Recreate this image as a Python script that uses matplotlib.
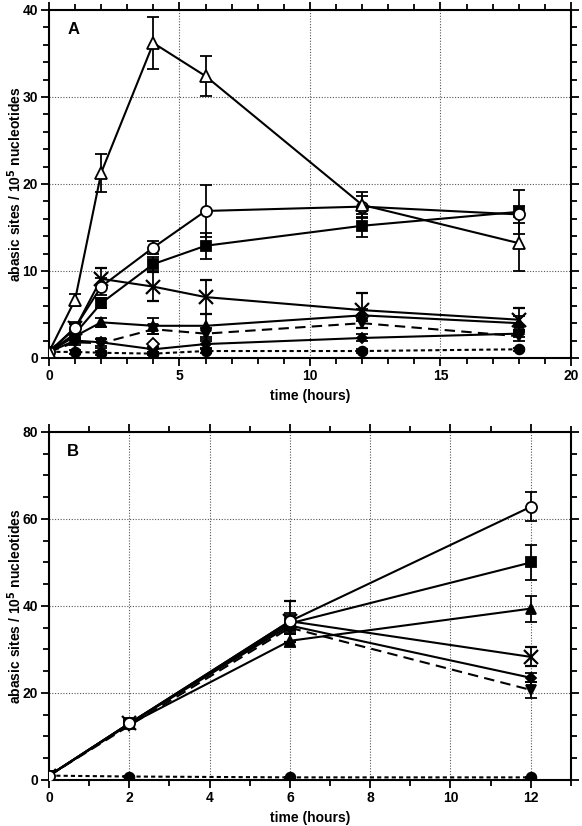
import matplotlib
matplotlib.use("Agg")
import matplotlib.pyplot as plt
from matplotlib.ticker import MultipleLocator

plt.rcParams['font.family'] = ['Liberation Sans', 'DejaVu Sans']
plt.rcParams['font.weight'] = 'bold'

# ---- Panel A data ----
time_a = [0, 1, 2, 4, 6, 12, 18]
a_open_tri = [0.7, 6.7, 21.3, 36.2, 32.4, 17.6, 13.2]
a_open_tri_err = [0.2, 0.7, 2.2, 3.0, 2.3, 1.5, 3.2]
a_open_circ = [0.7, 3.5, 8.2, 12.7, 16.9, 17.4, 16.5]
a_open_circ_err = [0.2, 0.6, 1.0, 0.8, 3.0, 1.2, 1.0]
a_square = [0.7, 2.8, 6.3, 10.8, 12.9, 15.2, 16.8]
a_square_err = [0.2, 0.5, 0.6, 0.8, 1.5, 1.3, 2.5]
a_cross = [0.7, 3.4, 9.1, 8.2, 7.0, 5.5, 4.4]
a_cross_err = [0.2, 0.5, 1.2, 1.7, 2.0, 2.0, 1.3]
a_tri = [0.7, 2.5, 4.1, 3.7, 3.7, 4.9, 4.0]
a_tri_err = [0.2, 0.4, 0.5, 0.9, 1.3, 0.7, 0.8]
a_inv = [0.7, 1.8, 1.7, 3.3, 2.8, 4.0, 2.5]
a_inv_err = [0.2, 0.3, 0.5, 0.5, 0.6, 0.6, 0.5]
a_diam = [0.7, 2.0, 1.8, 1.0, 1.6, 2.3, 2.8]
a_diam_err = [0.2, 0.3, 0.4, 0.3, 0.4, 0.4, 0.4]
a_circ = [0.7, 0.7, 0.6, 0.5, 0.8, 0.8, 1.0]
a_circ_err = [0.1, 0.2, 0.2, 0.2, 0.2, 0.2, 0.2]
a_open_diam_t = [4]
a_open_diam = [1.6]

# ---- Panel B data ----
time_b = [0, 2, 6, 12]
b_open_circ = [1.0, 13.0, 36.5, 62.8]
b_open_circ_err = [0.3, 0.5, 2.0, 3.3]
b_square = [1.0, 13.0, 36.0, 50.0]
b_square_err = [0.3, 0.5, 2.0, 4.0]
b_tri = [1.0, 12.8, 32.0, 39.4]
b_tri_err = [0.3, 0.5, 1.5, 3.0]
b_cross = [1.0, 13.0, 36.5, 28.3]
b_cross_err = [0.3, 0.5, 4.7, 2.2]
b_diam = [1.0, 13.0, 35.5, 23.5]
b_diam_err = [0.3, 0.5, 1.0, 1.0]
b_inv = [1.0, 12.5, 35.0, 20.7]
b_inv_err = [0.3, 0.5, 1.5, 1.8]
b_circ = [1.0, 0.8, 0.6, 0.6]
b_circ_err = [0.1, 0.1, 0.1, 0.1]

fig = plt.figure(figsize=(5.82, 8.26), dpi=100)
axA = fig.add_axes([0.0842, 0.5666, 0.8968, 0.4213])
axB = fig.add_axes([0.0842, 0.0557, 0.8968, 0.4213])

lw = 1.5
def series(ax, t, y, e, marker, ls='-', mfc='black', ms=7, mew=1.3):
    ax.errorbar(t, y, yerr=e, color='black', ls=ls, lw=lw, marker=marker,
                mfc=mfc, mec='black', ms=ms, mew=mew, capsize=4, elinewidth=1.3,
                capthick=1.3, zorder=3)

# Panel A
series(axA, time_a, a_circ, a_circ_err, 'o', ls=(0, (2, 1.5)))
series(axA, time_a, a_diam, a_diam_err, 'D', ms=5.5)
series(axA, time_a, a_inv, a_inv_err, 'v', ls=(0, (5, 3)))
series(axA, time_a, a_tri, a_tri_err, '^')
series(axA, time_a, a_cross, a_cross_err, 'x', ms=10, mew=1.6)
series(axA, time_a, a_square, a_square_err, 's')
series(axA, time_a, a_open_circ, a_open_circ_err, 'o', mfc='white', ms=8)
series(axA, time_a, a_open_tri, a_open_tri_err, '^', mfc='white', ms=9)
axA.plot(a_open_diam_t, a_open_diam, ls='none', marker='D', mfc='white',
         mec='black', ms=6, mew=1.3, zorder=4)

axA.set_xlim(0, 20)
axA.set_ylim(0, 40)
axA.xaxis.set_major_locator(MultipleLocator(5))
axA.xaxis.set_minor_locator(MultipleLocator(1))
axA.yaxis.set_major_locator(MultipleLocator(10))
axA.yaxis.set_minor_locator(MultipleLocator(2))
axA.text(0.035, 0.965, 'A', transform=axA.transAxes, fontsize=12,
         fontweight='bold', va='top', ha='left')

# Panel B
series(axB, time_b, b_circ, b_circ_err, 'o', ls=(0, (2, 1.5)))
series(axB, time_b, b_inv, b_inv_err, 'v', ls=(0, (5, 3)))
series(axB, time_b, b_diam, b_diam_err, 'D', ms=5.5)
series(axB, time_b, b_cross, b_cross_err, 'x', ms=10, mew=1.6)
series(axB, time_b, b_tri, b_tri_err, '^')
series(axB, time_b, b_square, b_square_err, 's')
series(axB, time_b, b_open_circ, b_open_circ_err, 'o', mfc='white', ms=8)

axB.set_xlim(0, 13)
axB.set_ylim(0, 80)
axB.xaxis.set_major_locator(MultipleLocator(2))
axB.xaxis.set_minor_locator(MultipleLocator(1))
axB.yaxis.set_major_locator(MultipleLocator(20))
axB.yaxis.set_minor_locator(MultipleLocator(5))
axB.text(0.035, 0.965, 'B', transform=axB.transAxes, fontsize=12,
         fontweight='bold', va='top', ha='left')

for ax in (axA, axB):
    ax.grid(True, which='major', color='#555555', ls=(0, (1, 1.5)), lw=0.8)
    ax.set_axisbelow(True)
    for s in ax.spines.values():
        s.set_linewidth(1.5)
    ax.tick_params(which='both', direction='out', top=True, right=True,
                   width=1.3, labelsize=10, pad=2)
    ax.tick_params(which='major', length=6)
    ax.tick_params(which='minor', length=4)
    ax.set_xlabel('time (hours)', fontsize=10, fontweight='bold')
    ax.set_ylabel('abasic sites / 10$^{\\mathbf{5}}$ nucleotides', fontsize=10,
                  fontweight='bold')
    ax.yaxis.set_label_coords(-0.048, 0.5)
    for lab in ax.get_xticklabels() + ax.get_yticklabels():
        lab.set_fontweight('bold')

fig.savefig('out.png', dpi=100)
